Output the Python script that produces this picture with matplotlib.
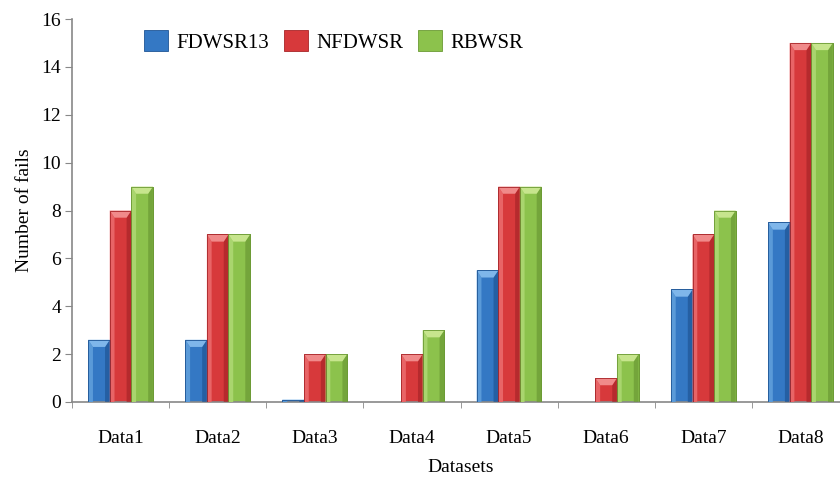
import matplotlib
matplotlib.use("Agg")
import matplotlib.pyplot as plt
from matplotlib.patches import Polygon, Rectangle
import numpy as np

categories = ["Data1", "Data2", "Data3", "Data4", "Data5", "Data6", "Data7", "Data8"]
series_names = ["FDWSR13", "NFDWSR", "RBWSR"]
fdwsr13 = [2.6, 2.6, 0.1, 0.0, 5.5, 0.0, 4.7, 7.5]
nfdwsr = [8, 7, 2, 2, 9, 1, 7, 15]
rbwsr = [9, 7, 2, 3, 9, 2, 8, 15]
yticks = [0, 2, 4, 6, 8, 10, 12, 14, 16]

base_colors = ["#3478c4", "#d7393b", "#8cc24c"]
light_colors = ["#5a9ad8", "#e86466", "#a9d56e"]
dark_colors = ["#1f5595", "#a82528", "#6b9a34"]
top_colors = ["#7fb6ea", "#f08a8a", "#c7e58d"]

plt.rcParams['font.family'] = ['Liberation Serif', 'DejaVu Serif']

fig = plt.figure(figsize=(8.4, 4.82), dpi=100)
W, H = 840, 482
left_px, right_px, bottom_px, top_px = 72, 849, 402, 19
ax = fig.add_axes([left_px / W, 1 - bottom_px / H, (right_px - left_px) / W, (bottom_px - top_px) / H])

x = np.arange(len(categories))
bw = 0.222
data = [fdwsr13, nfdwsr, rbwsr]
bevel_y = 0.3
handles = []
for i, vals in enumerate(data):
    bars = ax.bar(x + (i - 1) * bw, vals, width=bw, color=base_colors[i],
                  edgecolor=dark_colors[i], linewidth=0.6, zorder=2, label=series_names[i])
    handles.append(bars)
    for p in bars:
        bx, bwid, bh = p.get_x(), p.get_width(), p.get_height()
        if bh <= 0:
            continue
        by = min(bevel_y, bh / 2)
        bxv = bwid * 0.22
        # left highlight
        ax.add_patch(Polygon([(bx, 0), (bx + bxv, 0), (bx + bxv, bh - by), (bx, bh)],
                             closed=True, facecolor=light_colors[i], edgecolor='none', zorder=3))
        # right shade
        ax.add_patch(Polygon([(bx + bwid, 0), (bx + bwid - bxv, 0), (bx + bwid - bxv, bh - by), (bx + bwid, bh)],
                             closed=True, facecolor=dark_colors[i], edgecolor='none', zorder=3, alpha=0.7))
        # top bevel
        ax.add_patch(Polygon([(bx, bh), (bx + bwid, bh), (bx + bwid - bxv, bh - by), (bx + bxv, bh - by)],
                             closed=True, facecolor=top_colors[i], edgecolor='none', zorder=3))
        ax.add_patch(Rectangle((bx, 0), bwid, bh, facecolor='none', edgecolor=dark_colors[i],
                               linewidth=0.6, zorder=4))

ax.set_xlim(-0.5, len(categories) - 0.5)
ax.set_ylim(0, 16)
ax.set_yticks(yticks)
ax.set_yticklabels([str(t) for t in yticks], fontsize=14)
ax.set_xticks(x)
ax.set_xticklabels(categories, fontsize=14)
ax.set_xticks(np.arange(len(categories) + 1) - 0.5, minor=True)
ax.tick_params(axis='x', which='major', length=0, pad=20)
ax.tick_params(axis='x', which='minor', length=4, color='#888888', direction='out')
ax.tick_params(axis='y', length=5, color='#888888', direction='out', pad=3)
for s in ['top', 'right']:
    ax.spines[s].set_visible(False)
for s in ['left', 'bottom']:
    ax.spines[s].set_color('#888888')
    ax.spines[s].set_linewidth(1.2)

ax.set_ylabel("Number of fails", fontsize=14)
ax.set_xlabel("Datasets", fontsize=14)
ax.yaxis.set_label_coords(-0.05, 0.5)
ax.xaxis.set_label_coords(0.5, -0.148)

leg = ax.legend(handles=handles, loc='upper left', bbox_to_anchor=(0.068, 1.019), ncol=3,
                frameon=False, fontsize=15, handlelength=1.15, handleheight=1.15,
                handletextpad=0.4, columnspacing=0.72)

fig.savefig("out.png", dpi=100)
